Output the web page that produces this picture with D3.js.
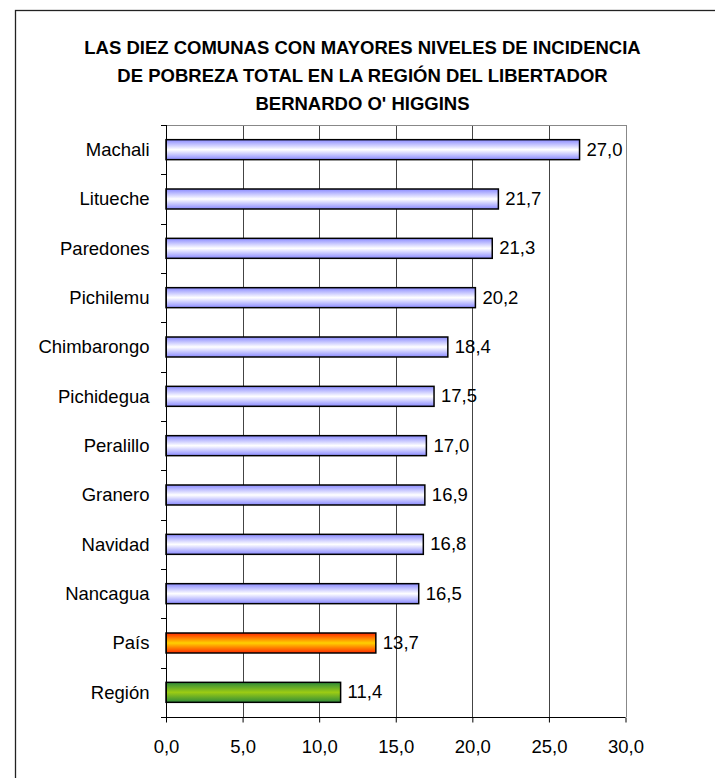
<!DOCTYPE html>
<html>
<head>
<meta charset="utf-8">
<script src="https://cdn.jsdelivr.net/npm/d3@7"></script>
<style>
  body { margin: 0; background: #fff; }
  svg { display: block; font-family: Arial, "Liberation Sans", sans-serif; }
</style>
</head>
<body>
<div id="okvir"></div>
<script>
const comunas = ["Machali", "Litueche", "Paredones", "Pichilemu", "Chimbarongo", "Pichidegua",
  "Peralillo", "Granero", "Navidad", "Nancagua", "País", "Región"]
const incidencia = [27.0, 21.7, 21.3, 20.2, 18.4, 17.5, 17.0, 16.9, 16.8, 16.5, 13.7, 11.4]
const tickVrijednosti = [0, 5, 10, 15, 20, 25, 30]
const naslov = ["LAS DIEZ COMUNAS CON MAYORES NIVELES DE INCIDENCIA",
  "DE POBREZA TOTAL EN LA REGIÓN DEL LIBERTADOR",
  "BERNARDO O' HIGGINS"]

const podaci = comunas.map((c, i) => ({ comuna: c, vrijednost: incidencia[i] }))

const dim = {
  sirina: 715,
  visina: 778,
  lijevo: 166,
  desno: 625.5,
  gore: 125,
  dolje: 717,
}

const font = "Arial, 'Liberation Sans', sans-serif"
const formatBroja = d => d3.format(".1f")(d).replace(".", ",")

const svg = d3.select("#okvir").append("svg")
  .attr("width", dim.sirina)
  .attr("height", dim.visina)

// gradijenti za stupce
const defs = svg.append("defs")
const gradijent = (id, rub, sredina) => {
  const g = defs.append("linearGradient").attr("id", id)
    .attr("x1", 0).attr("y1", 0).attr("x2", 0).attr("y2", 1)
  g.append("stop").attr("offset", "0%").attr("stop-color", rub)
  g.append("stop").attr("offset", "50%").attr("stop-color", sredina)
  g.append("stop").attr("offset", "100%").attr("stop-color", rub)
}
gradijent("plava", "#8a8aff", "#ffffff")
gradijent("narancasta", "#ff2a00", "#ffd000")
gradijent("zelena", "#2f8a3a", "#9ccc14")

const bojaStupca = d => d.comuna === "País" ? "url(#narancasta)"
  : d.comuna === "Región" ? "url(#zelena)" : "url(#plava)"

// okvir
svg.append("rect")
  .attr("x", 15.5).attr("y", 10.5)
  .attr("width", 720).attr("height", 800)
  .attr("fill", "none")
  .attr("stroke", "#222")
  .attr("stroke-width", 1.3)

const x = d3.scaleLinear()
  .domain([0, 30])
  .range([dim.lijevo, dim.desno])

const y = d3.scaleBand()
  .domain(comunas)
  .range([dim.gore, dim.dolje])
  .paddingInner(0.595)
  .paddingOuter(0.2975)

// mreza
svg.append("g")
  .selectAll("line")
  .data(tickVrijednosti.slice(1))
  .join("line")
    .attr("x1", d => Math.round(x(d)) + 0.5)
    .attr("x2", d => Math.round(x(d)) + 0.5)
    .attr("y1", dim.gore)
    .attr("y2", dim.dolje)
    .attr("stroke", d => d === 30 ? "#888" : "#444")
    .attr("stroke-width", 1)

svg.append("line")
  .attr("x1", dim.lijevo).attr("x2", Math.round(dim.desno) + 0.5)
  .attr("y1", dim.gore + 0.5).attr("y2", dim.gore + 0.5)
  .attr("stroke", "#888")

// stupci
svg.append("g")
  .selectAll("rect")
  .data(podaci)
  .join("rect")
    .attr("x", x(0))
    .attr("y", d => y(d.comuna))
    .attr("width", d => x(d.vrijednost) - x(0))
    .attr("height", y.bandwidth())
    .attr("fill", bojaStupca)
    .attr("stroke", "#000")
    .attr("stroke-width", 1.5)

// vrijednosti
svg.append("g")
  .selectAll("text")
  .data(podaci)
  .join("text")
    .attr("x", d => x(d.vrijednost) + 7)
    .attr("y", d => y(d.comuna) + y.bandwidth() / 2 + 6)
    .attr("font-size", 18.5)
    .attr("fill", "#000")
    .text(d => formatBroja(d.vrijednost))

// os y
const osY = svg.append("g")
  .attr("transform", `translate(${dim.lijevo + 0.5},0)`)
  .call(d3.axisLeft(y).tickSize(0).tickPadding(17))
osY.select(".domain").attr("stroke", "#000").attr("d", `M0,${dim.gore}V${dim.dolje}`)
osY.selectAll("text")
  .attr("font-size", 18.5)
  .attr("font-family", font)
  .attr("fill", "#000")
  .attr("dy", "0.35em")

// crtice izmedju kategorija
const granice = d3.range(comunas.length + 1).map(i => dim.gore + i * (dim.dolje - dim.gore) / comunas.length)
svg.append("g")
  .selectAll("line")
  .data(granice)
  .join("line")
    .attr("x1", dim.lijevo - 5).attr("x2", dim.lijevo)
    .attr("y1", d => Math.round(d) + 0.5).attr("y2", d => Math.round(d) + 0.5)
    .attr("stroke", "#000")

// os x
const osX = svg.append("g")
  .attr("transform", `translate(0,${dim.dolje + 0.5})`)
  .call(d3.axisBottom(x)
    .tickValues(tickVrijednosti)
    .tickSize(5)
    .tickPadding(17)
    .tickFormat(formatBroja))
osX.select(".domain").attr("stroke", "#000").attr("d", `M${dim.lijevo},0H${dim.desno}`)
osX.selectAll(".tick line").attr("stroke", "#000")
osX.selectAll("text")
  .attr("font-size", 18.5)
  .attr("font-family", font)
  .attr("fill", "#000")

// naslov
svg.append("g")
  .selectAll("text")
  .data(naslov)
  .join("text")
    .attr("x", 362.5)
    .attr("y", (d, i) => 53.5 + i * 28.2)
    .attr("text-anchor", "middle")
    .attr("font-size", 18.5)
    .attr("font-weight", "bold")
    .attr("letter-spacing", 0)
    .text(d => d)
</script>
</body>
</html>
